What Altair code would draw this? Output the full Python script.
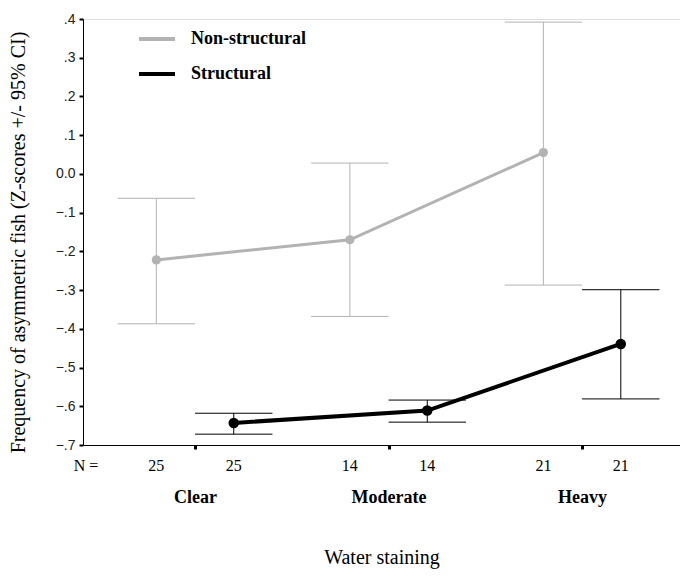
import altair as alt
import pandas as pd

categories = ["Clear", "Moderate", "Heavy"]
series = ["Non-structural", "Structural"]
means = {"Non-structural": [-0.222, -0.170, 0.055], "Structural": [-0.643, -0.611, -0.439]}
lower = {"Non-structural": [-0.387, -0.368, -0.287], "Structural": [-0.672, -0.641, -0.581]}
upper = {"Non-structural": [-0.063, 0.028, 0.392], "Structural": [-0.618, -0.584, -0.299]}
n_counts = {"Non-structural": [25, 14, 21], "Structural": [25, 14, 21]}
y_ticks = [-0.7, -0.6, -0.5, -0.4, -0.3, -0.2, -0.1, 0.0, 0.1, 0.2, 0.3, 0.4]

rows = []
for s_i, s in enumerate(series):
    for c_i, c in enumerate(categories):
        rows.append({"series": s, "category": c, "cidx": c_i, "sidx": s_i,
                     "mean": means[s][c_i], "lo": lower[s][c_i], "hi": upper[s][c_i],
                     "n": str(n_counts[s][c_i])})
df = pd.DataFrame(rows)

W, H = 597, 426
SERIF = "Liberation Serif"
GRAY = "#b3b3b3"
COLORS = {"Non-structural": GRAY, "Structural": "black"}
WIDTHS = {"Non-structural": 3, "Structural": 4}
PSIZE = {"Non-structural": 85, "Structural": 110}

xscale = alt.Scale(domain=[-0.579, 2.506], nice=False, zero=False)
yscale = alt.Scale(domain=[-0.7, 0.4], nice=False, zero=False)
legend = alt.Legend(title=None, orient="none", legendX=54, legendY=0,
                    symbolType="stroke", symbolSize=1296, symbolStrokeWidth=4,
                    labelFont=SERIF, labelFontWeight="bold", labelFontSize=18,
                    labelColor="black", labelOffset=14, rowPadding=6, padding=0,
                    labelLimit=300)
color = alt.Color("series:N", scale=alt.Scale(domain=series, range=[GRAY, "black"]), legend=legend)

base = alt.Chart(df).transform_calculate(
    pos="datum.cidx + (datum.sidx == 0 ? -0.2 : 0.2)",
    capL="datum.cidx + (datum.sidx == 0 ? -0.4 : 0.0)",
    capR="datum.cidx + (datum.sidx == 0 ? 0.0 : 0.4)",
)

xax = alt.Axis(values=[0, 1, 2], labelExpr="['Clear','Moderate','Heavy'][datum.value]",
               title="Water staining", titleFont=SERIF, titleFontSize=20, titleFontWeight="normal",
               titleY=112, titleBaseline="middle", titleColor="black",
               labelFont=SERIF, labelFontSize=18, labelFontWeight="bold", labelColor="black",
               labelPadding=39, tickSize=4, tickWidth=3, tickColor="black",
               domainColor="black", domainWidth=1, grid=False, labelOverlap=False)
yax = alt.Axis(values=y_ticks,
               labelExpr="datum.value == 0 ? '0.0' : replace(format(datum.value, '.1f'), '0.', '.')",
               title="Frequency of asymmetric fish (Z-scores +/- 95% CI)",
               titleFont=SERIF, titleFontSize=20, titleFontWeight="normal", titleColor="black",
               titleX=-65, titleY=223, titleAlign="center", titleBaseline="middle",
               labelFont="Liberation Sans", labelFontSize=14, labelColor="#222",
               labelPadding=4, tickSize=4, tickWidth=2, tickColor="black",
               domainColor="black", domainWidth=1, grid=False, labelOverlap=False)

X = alt.X("pos:Q", scale=xscale, axis=xax)

whisk = base.mark_rule(strokeWidth=1).encode(
    x=X, y=alt.Y("lo:Q", scale=yscale, axis=yax), y2="hi:Q", color=color)
capLo = base.mark_rule(strokeWidth=1).encode(
    x=alt.X("capL:Q", scale=xscale, axis=xax), x2="capR:Q", y=alt.Y("lo:Q", scale=yscale, axis=yax),
    color=color)
capHi = base.mark_rule(strokeWidth=1).encode(
    x=alt.X("capL:Q", scale=xscale, axis=xax), x2="capR:Q", y=alt.Y("hi:Q", scale=yscale, axis=yax),
    color=color)

layers = [whisk, capLo, capHi]
for s in series:
    sub = base.transform_filter(alt.datum.series == s)
    layers.append(sub.mark_line(strokeWidth=WIDTHS[s]).encode(
        x=X, y=alt.Y("mean:Q", scale=yscale, axis=yax), color=color, order="cidx:Q"))
for s in series:
    sub = base.transform_filter(alt.datum.series == s)
    layers.append(sub.mark_point(filled=True, opacity=1, size=PSIZE[s], color=COLORS[s]).encode(
        x=X, y=alt.Y("mean:Q", scale=yscale, axis=yax)))

nlab = base.mark_text(font=SERIF, fontSize=16, color="black", baseline="middle").encode(
    x=X, y=alt.value(H + 21), text="n:N")

nhead = alt.Chart(pd.DataFrame({"t": ["N ="]})).mark_text(
    font=SERIF, fontSize=16, color="black", baseline="middle", align="center").encode(
    x=alt.value(3), y=alt.value(H + 21), text="t:N")

layers += [nlab, nhead]

chart = alt.layer(*layers).properties(
    width=W, height=H,
    autosize=alt.AutoSizeParams(type="none"),
    padding={"left": 75, "top": 11, "right": 0, "bottom": 124},
).configure_view(stroke=None).configure_axis(grid=False).configure(background="white")

chart.save("out.html", embed_options={"renderer": "svg", "actions": False})
